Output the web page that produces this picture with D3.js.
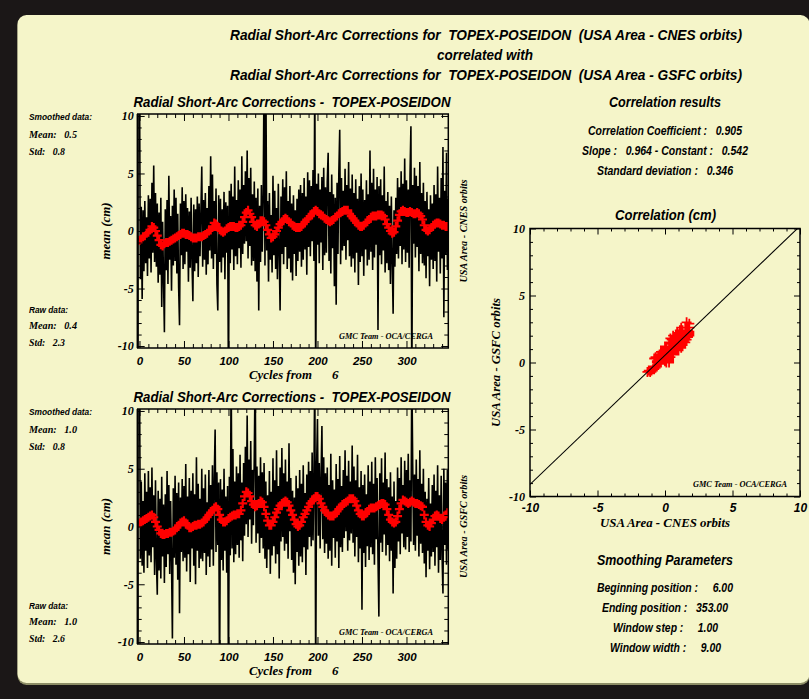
<!DOCTYPE html>
<html><head><meta charset="utf-8">
<script src="https://cdn.jsdelivr.net/npm/d3@7"></script>
<style>
html,body{margin:0;padding:0;background:#1b1717;}
svg{display:block;}
text{white-space:pre;}
</style></head><body>
<svg id="chart" width="809" height="699"></svg>
<script>
// ---------------- DATA ----------------
// Raw radial short-arc corrections (cm), one value per cycle index (cycle - 6), index 0..347
const cnesRaw = [
 14, -4.2, 2.1, -5.9, 1.8, -3.5, 2.6, -2.8, 1.2, -3.9,
 3.1, -2.4, 2.8, -3.6, 4.2, -1.9, 5.7, -2.7, 3.3, -3.1,
 2.4, -4.5, 1.6, -3.8, 2.9, -6.6, 0.8, -4.1, -8.8, 1.9,
 -3.4, 2.7, -4.6, 4.8, -2.5, 1.3, -5.2, 2.2, -3.0, 3.6,
 -2.6, 2.9, -3.7, 1.5, -4.9, -8.2, 2.4, -2.1, 3.8, -3.3,
 2.6, -2.9, 3.2, -1.8, 2.0, -4.4, 1.7, -3.2, 2.9, -2.6,
 -6.1, 2.3, -3.5, 1.9, -2.8, 3.0, -4.0, 2.4, -2.2, 1.6,
 5.6, -3.1, 2.7, -2.5, 3.3, -3.8, 2.0, -2.9, 3.9, -1.7,
 6.5, -2.4, 4.9, -3.3, 2.6, -2.0, 3.7, -4.6, -6.9, 3.1,
 -2.7, 2.8, -3.6, 1.9, -2.3, 3.4, -4.2, 2.5, -1.9, 2.2,
 -14, 3.5, -2.8, 4.1, -1.6, 3.0, -3.4, 5.6, -2.2, 2.7,
 -2.9, 4.4, -1.5, 3.6, -3.2, 6.5, -2.0, 4.0, -1.1, 5.2,
 -0.9, 7.0, -2.4, 4.6, -1.3, 5.5, -3.0, 3.2, -2.6, 4.3,
 -3.5, 2.9, -4.4, 3.7, -6.9, 2.2, -2.7, 4.0, -1.8, 3.1,
 14, -3.0, 14, -1.7, 2.6, -4.4, 3.3, -2.5, 1.4, -3.6,
 4.8, -2.1, 3.5, -3.3, 2.0, -4.2, 4.1, -1.9, -6.9, 3.0,
 -2.0, 4.5, -2.9, 3.8, -1.4, 5.2, -3.3, 2.6, -2.4, 3.9,
 -3.6, 2.4, -4.3, 3.1, -2.0, 1.8, -3.9, 2.8, -2.6, 3.6,
 -1.8, 4.0, -3.1, 3.3, -2.5, 4.6, -1.6, 3.0, -3.8, 5.1,
 -1.4, 4.4, -2.2, 3.9, -0.9, 5.3, -2.6, 14, -14, 4.1,
 -1.2, 5.0, -2.8, 3.6, -1.0, 4.7, -3.4, 5.5, -2.1, 3.8,
 -1.9, 4.3, 6.8, -2.6, 3.4, -3.7, 4.9, -1.5, 3.2, -4.8,
 2.9, -6.4, 4.2, -2.0, 5.1, 8.8, -2.9, 4.6, -1.7, 3.5,
 -1.3, 5.4, -2.5, 4.0, -0.8, 6.0, -2.2, 3.7, -3.1, 4.9,
 -2.4, 3.3, -3.6, 4.5, -1.9, 2.8, -4.7, 3.9, -2.7, 5.0,
 -2.2, 3.6, -3.9, 2.7, -1.6, 4.4, -3.0, 3.2, -2.5, 7.0,
 -1.8, 4.2, -3.4, 5.4, -2.3, 3.6, -1.2, 4.7, -8.6, 3.9,
 -2.1, 4.5, -2.9, 3.1, -1.7, 5.6, -3.6, 2.6, -2.8, 3.4,
 -3.4, 2.2, -4.6, 3.0, -2.6, -7.2, 1.8, -3.1, 2.9, -2.0,
 4.6, -2.4, 3.8, -1.3, 5.2, -2.9, 4.1, -1.6, 6.3, -2.7,
 4.4, -1.9, 3.6, -3.2, 5.0, 9.1, -14, 4.0, -1.1, 5.5,
 -2.3, 4.8, -1.4, 3.9, -3.5, 6.0, -2.0, 3.3, -2.8, 4.2,
 -3.0, 2.6, -4.1, 3.4, -2.2, 1.9, -4.8, 3.1, -2.5, 2.4,
 -3.3, 4.0, -2.6, 3.2, -4.4, 5.6, -1.8, 2.9, -3.7, 4.6,
 -2.4, 7.3, -7.5, 3.5, -2.0, 6.8, -3.4, 2.8
];
const gsfcRaw = [
 14, -2.8, 3.9, -3.4, 2.2, -4.0, 4.6, -2.1, 3.0, -3.6,
 4.8, -2.5, 3.4, -3.1, 5.1, -1.8, 2.7, -4.2, 4.0, -2.9,
 -5.9, 3.1, -3.8, 2.4, -4.5, 4.3, -2.6, 1.9, -4.9, 2.8,
 -3.5, 4.8, -2.4, 3.6, -4.1, 2.2, -3.0, -9.7, 3.3, -2.7,
 4.4, -3.3, 2.9, -4.6, 3.8, -7.5, 2.5, -2.2, 4.1, -3.0,
 3.5, -2.7, 5.4, -3.9, 2.6, -2.4, 4.2, -4.8, 3.1, -1.9,
 4.6, -3.4, 2.8, -5.0, 6.0, -2.1, 3.7, -3.6, 2.4, -2.8,
 5.0, -3.0, 3.3, -2.3, 4.5, -4.2, 2.1, -2.6, 4.9, -3.5,
 3.6, -2.0, 5.3, -3.4, 4.2, 8.4, -2.2, 4.7, -1.6, 3.8,
 -14, 4.1, -2.9, 3.2, -3.8, 5.0, -2.1, 2.6, -4.0, 3.5,
 -14, 4.3, -2.5, 14, -1.9, 6.7, -3.1, 3.9, -2.4, 5.2,
 -1.6, 4.6, -2.7, 6.2, -1.2, 3.8, -3.0, 5.5, -0.8, 6.9,
 0.2, 9.6, -0.9, 5.8, 0.6, 7.4, -1.5, 4.9, 0.1, 6.1,
 14, -1.4, 5.2, -0.6, 4.4, -2.3, 6.0, -1.0, 4.7, -1.9,
 5.5, -2.8, 3.9, -3.6, 2.7, -2.0, 4.8, -4.1, 3.0, -2.5,
 5.9, -1.7, 4.0, -3.2, 6.6, -2.4, 3.5, -4.5, 5.1, -1.3,
 6.8, -0.9, 4.6, -2.1, 5.8, -1.5, 3.9, -2.8, 7.2, -0.4,
 4.2, -2.9, 3.1, -4.0, 2.5, -5.0, 4.4, -2.2, 3.3, -3.4,
 4.9, -2.6, 3.7, -3.1, 5.3, -1.8, 2.9, -4.2, 4.5, -2.0,
 5.6, -0.9, 4.8, -1.7, 6.4, -1.2, 4.0, 14, -14, 5.2,
 9.3, -0.8, 5.5, -1.9, 4.3, 8.7, -1.1, 6.0, -2.3, 4.6,
 -1.5, 5.1, -2.8, 3.6, -2.1, 6.3, -3.4, 4.0, -1.0, 3.2,
 -2.7, 5.4, -1.3, 4.1, -3.6, 6.1, -1.8, 3.5, -2.2, 4.9,
 -1.0, 6.6, -0.4, 4.4, -2.1, 5.7, -1.2, 3.9, -0.6, 7.0,
 -1.4, 5.2, -2.6, 4.0, -0.9, 6.2, -3.1, 3.4, -1.9, 4.8,
 -7.2, 3.6, -2.3, 4.5, -3.5, 2.8, -1.7, 5.3, -2.9, 3.9,
 -1.8, 5.6, -2.4, 3.7, -3.3, 6.0, -1.1, 4.2, -2.7, -7.8,
 4.6, -1.4, 5.9, -2.2, 3.8, -0.7, 6.4, -2.5, 4.1, -1.6,
 3.4, -3.0, 4.7, -2.1, 2.6, -5.8, 3.9, -3.6, 2.2, -2.8,
 5.1, -1.3, 4.2, -2.4, 6.0, -0.6, 3.6, -1.8, 5.7, -2.0,
 4.9, -0.9, 6.3, -2.2, 4.0, -1.3, 14, 5.4, -1.6, 4.5,
 -2.1, 5.8, -0.8, 4.1, -2.6, 6.6, -1.5, 3.7, -2.3, 5.0,
 -3.2, 3.0, -4.4, 2.4, -2.1, 4.2, -3.7, 2.0, -2.6, 3.6,
 -2.2, 4.5, -3.4, 3.1, -1.8, 5.3, -4.0, 2.7, -2.9, 4.4,
 -2.5, -5.8, 5.0, -1.6, 3.8, -3.3, 4.9, -2.0
];
const rawStep = 1;      // cycles between raw samples
// Smoothed series (window 9), one value every 2 cycles, index 0..346
const cnesSmooth = [
 -0.8, -0.7, -0.5, -0.4, -0.2, -0.1, 0.1, 0.4, 0.3, 0.0,
 -0.4, -0.8, -1.2, -1.3, -1.1, -1.0, -1.0, -0.9, -0.8, -0.7,
 -0.6, -0.5, -0.4, -0.3, -0.2, -0.2, -0.3, -0.3, -0.4, -0.5,
 -0.6, -0.6, -0.6, -0.5, -0.5, -0.5, -0.4, -0.3, -0.2, 0.0,
 0.1, 0.4, 0.7, 0.6, 0.3, 0.1, 0.0, -0.1, 0.0, 0.2,
 0.3, 0.4, 0.4, 0.4, 0.3, 0.3, 0.4, 0.5, 0.8, 1.2,
 1.6, 1.8, 1.5, 1.2, 0.8, 0.5, 0.4, 0.6, 0.9, 0.9,
 0.8, 0.5, 0.1, -0.3, -0.6, -0.5, -0.3, 0.0, 0.3, 0.6,
 0.8, 1.0, 1.1, 1.0, 0.8, 0.7, 0.5, 0.4, 0.3, 0.3,
 0.3, 0.4, 0.6, 0.8, 1.0, 1.1, 1.3, 1.5, 1.7, 1.8,
 1.7, 1.5, 1.4, 1.3, 1.1, 1.0, 0.9, 0.8, 0.9, 1.0,
 1.2, 1.3, 1.5, 1.6, 1.7, 1.8, 1.8, 1.8, 1.5, 1.3,
 1.1, 0.9, 0.7, 0.5, 0.4, 0.4, 0.5, 0.7, 0.8, 1.0,
 1.2, 1.3, 1.3, 1.3, 1.4, 1.4, 1.4, 1.3, 1.0, 0.6,
 0.3, 0.0, -0.2, -0.1, 0.4, 0.9, 1.4, 1.7, 1.8, 1.7,
 1.6, 1.6, 1.7, 1.6, 1.5, 1.5, 1.6, 1.5, 1.3, 1.0,
 0.5, 0.1, 0.0, 0.1, 0.3, 0.5, 0.6, 0.7, 0.7, 0.6,
 0.5, 0.5, 0.4, 0.4
];
const gsfcSmooth = [
 0.3, 0.4, 0.5, 0.6, 0.7, 0.8, 0.9, 1.0, 0.8, 0.4,
 0.0, -0.3, -0.6, -0.7, -0.7, -0.6, -0.6, -0.5, -0.5, -0.4,
 -0.3, -0.1, 0.1, 0.3, 0.4, 0.5, 0.3, 0.1, -0.1, -0.1,
 0.0, 0.1, 0.1, 0.2, 0.2, 0.3, 0.4, 0.6, 0.8, 1.0,
 1.2, 1.4, 1.6, 1.7, 1.5, 1.0, 0.6, 0.4, 0.4, 0.5,
 0.7, 0.8, 0.9, 1.0, 1.0, 1.1, 1.1, 1.4, 2.0, 2.6,
 3.0, 2.9, 2.6, 2.2, 1.9, 1.7, 1.8, 2.0, 2.2, 2.1,
 1.7, 1.1, 0.5, 0.1, 0.1, 0.4, 0.8, 1.2, 1.5, 1.8,
 2.0, 2.1, 2.2, 2.1, 1.8, 1.4, 1.0, 0.6, 0.2, 0.0,
 0.1, 0.4, 0.8, 1.1, 1.4, 1.7, 2.0, 2.2, 2.4, 2.6,
 2.6, 2.4, 2.0, 1.7, 1.4, 1.2, 1.0, 0.9, 0.9, 0.9,
 1.1, 1.3, 1.5, 1.7, 1.9, 2.0, 2.1, 2.2, 2.4, 2.4,
 2.4, 2.2, 1.8, 1.4, 1.1, 0.9, 0.9, 1.1, 1.3, 1.5,
 1.6, 1.6, 1.6, 1.7, 1.8, 1.9, 2.0, 2.0, 1.9, 1.5,
 1.0, 0.6, 0.4, 0.3, 0.4, 0.9, 1.5, 2.0, 2.3, 2.2,
 2.1, 2.0, 2.1, 2.2, 2.1, 2.0, 2.0, 1.9, 1.8, 1.7,
 1.0, 0.4, 0.1, 0.0, 0.3, 0.6, 0.9, 1.0, 0.9, 0.7,
 0.6, 0.8, 1.0, 1.2
];
const smoothStep = 2;   // cycles between smoothed samples

const seriesXTicks = [0, 50, 100, 150, 200, 250, 300];
const seriesYTicks = [-10, -5, 0, 5, 10];
const corrTicks = [-10, -5, 0, 5, 10];
const regression = {slope: 0.964, constant: 0.542};

const titleLines = [
 "Radial Short-Arc Corrections for  TOPEX-POSEIDON  (USA Area - CNES orbits)",
 "correlated with",
 "Radial Short-Arc Corrections for  TOPEX-POSEIDON  (USA Area - GSFC orbits)"
];
const panelTitle = "Radial Short-Arc Corrections -  TOPEX-POSEIDON";
const statsCnes = {smoothMean: "0.5", smoothStd: "0.8", rawMean: "0.4", rawStd: "2.3"};
const statsGsfc = {smoothMean: "1.0", smoothStd: "0.8", rawMean: "1.0", rawStd: "2.6"};
const corrResults = ["Correlation Coefficient :   0.905", "Slope :   0.964 - Constant :   0.542", "Standard deviation :   0.346"];
const smoothingParams = ["Beginning position :     6.00", "Ending position :   353.00", "Window step :     1.00", "Window width :     9.00"];
const firstCycle = "6";

// ---------------- DRAWING ----------------
const SANS = "'Liberation Sans', Arial, Helvetica, sans-serif";
const SERIF = "'Liberation Serif', 'Times New Roman', serif";
const svg = d3.select("#chart");
const defs = svg.append("defs");

svg.append("rect").attr("width", 809).attr("height", 699).attr("fill", "#1b1717");
svg.append("rect").attr("x", 17.5).attr("y", 16.5).attr("width", 792).attr("height", 668.5).attr("rx", 9).attr("fill", "#8d8d66");
svg.append("rect").attr("x", 17.5).attr("y", 15).attr("width", 792).attr("height", 668).attr("rx", 9).attr("fill", "#f5f5c9");

function label(x, y, s, o) {
  o = o || {};
  const t = svg.append("text")
    .attr("font-family", o.family || SANS)
    .attr("font-size", o.size || 12)
    .attr("font-weight", "bold")
    .attr("font-style", "italic")
    .attr("fill", "#000")
    .attr("text-anchor", o.anchor || "middle")
    .attr("xml:space", "preserve")
    .text(s);
  if (o.rotate) t.attr("transform", `translate(${x},${y}) rotate(-90)`);
  else t.attr("x", x).attr("y", y);
  if (o.len) t.attr("textLength", o.len).attr("lengthAdjust", "spacingAndGlyphs");
  return t;
}

// Main title
label(486, 40, titleLines[0], {size: 15, len: 512});
label(485, 59.5, titleLines[1], {size: 15, len: 96});
label(486, 79.5, titleLines[2], {size: 15, len: 512});

function styleAxis(sel, family, size) {
  sel.select(".domain").remove();
  sel.attr("font-family", null).attr("font-size", null);
  sel.selectAll("line").attr("stroke", "#000").attr("stroke-width", 1);
  sel.selectAll("text").attr("font-family", family).attr("font-size", size)
    .attr("font-weight", "bold").attr("font-style", "italic").attr("fill", "#000");
}

function addTicks(g, axisFn, scale, values, size, tr, fmt, pad, family, fsize) {
  const a = axisFn(scale).tickValues(values).tickSize(size).tickSizeOuter(0).tickPadding(pad)
    .tickFormat(fmt || (() => ""));
  const s = g.append("g").attr("transform", tr).call(a);
  styleAxis(s, family || SANS, fsize || 12);
  return s;
}

function plusPath(px, py, h) { return `M${px - h},${py}H${px + h}M${px},${py - h}V${py + h}`; }

function drawSeries(cfg) {
  const L = 137.7, R = 448.3, T = cfg.top, B = cfg.bottom;
  const x = d3.scaleLinear().domain([-2, 347]).range([L, R]);
  const y = d3.scaleLinear().domain([-10.17, 10.17]).range([B, T]);
  const g = svg.append("g");
  const cid = "clip" + cfg.id;
  defs.append("clipPath").attr("id", cid).append("rect").attr("x", L).attr("y", T).attr("width", R - L).attr("height", B - T);

  const line = d3.line().x((d, i) => x(i * rawStep)).y(d => y(d));
  g.append("path").datum(cfg.raw).attr("d", line).attr("fill", "none")
    .attr("stroke", "#000").attr("stroke-width", 1.6).attr("stroke-linejoin", "miter").attr("clip-path", `url(#${cid})`);

  g.append("path").attr("clip-path", `url(#${cid})`)
    .attr("d", cfg.smooth.map((v, i) => plusPath(x(i * smoothStep), y(v), 4.5)).join(""))
    .attr("stroke", "#ff0000").attr("stroke-width", 2.2).attr("fill", "none");

  // ticks
  const xMinor = d3.range(0, 347, 10).filter(v => v % 50 !== 0);
  const yMinor = d3.range(-10, 11, 1).filter(v => v % 5 !== 0);
  addTicks(g, d3.axisBottom, x, seriesXTicks, -7, `translate(0,${B})`, d => String(d), 9, SANS, 11.5);
  addTicks(g, d3.axisBottom, x, xMinor, -4, `translate(0,${B})`);
  addTicks(g, d3.axisTop, x, seriesXTicks, -7, `translate(0,${T})`);
  addTicks(g, d3.axisTop, x, xMinor, -4, `translate(0,${T})`);
  addTicks(g, d3.axisLeft, y, seriesYTicks, -7, `translate(${L},0)`, d => String(d), 4, SERIF, 12);
  addTicks(g, d3.axisLeft, y, yMinor, -4, `translate(${L},0)`);
  addTicks(g, d3.axisRight, y, seriesYTicks, -7, `translate(${R},0)`);
  addTicks(g, d3.axisRight, y, yMinor, -4, `translate(${R},0)`);

  g.append("rect").attr("x", L).attr("y", T).attr("width", R - L).attr("height", B - T)
    .attr("fill", "none").attr("stroke", "#000").attr("stroke-width", 1.5);
  g.append("line").attr("x1", L).attr("x2", L).attr("y1", T).attr("y2", B).attr("stroke", "#000").attr("stroke-width", 2.2);

  // texts
  label(292, T - 7, panelTitle, {size: 14.5, len: 317});
  label(249, B + 31, "Cycles from", {family: SERIF, size: 13, anchor: "start", len: 63});
  label(332, B + 31, firstCycle, {family: SERIF, size: 13, anchor: "start"});
  label(109.5, (T + B) / 2, "mean (cm)", {family: SERIF, size: 13, rotate: true, len: 57});
  label(466.5, (T + B) / 2, cfg.side, {family: SERIF, size: 10, rotate: true, len: 103});
  label(339, B - 9, "GMC Team - OCA/CERGA", {family: SERIF, size: 8.5, anchor: "start", len: 94});

  const st = cfg.stats;
  label(29, T + 6, "Smoothed data:", {size: 9.5, anchor: "start", len: 63});
  label(29, T + 23.5, "Mean:   " + st.smoothMean, {family: SERIF, size: 11, anchor: "start", len: 48});
  label(29, T + 40.5, "Std:   " + st.smoothStd, {family: SERIF, size: 11, anchor: "start", len: 36});
  label(29, B - 35, "Raw data:", {size: 9.5, anchor: "start", len: 39});
  label(29, B - 19, "Mean:   " + st.rawMean, {family: SERIF, size: 11, anchor: "start", len: 48});
  label(29, B - 2.5, "Std:   " + st.rawStd, {family: SERIF, size: 11, anchor: "start", len: 36});
}

drawSeries({id: "a", top: 114, bottom: 348, raw: cnesRaw, smooth: cnesSmooth, side: "USA Area - CNES orbits", stats: statsCnes});
drawSeries({id: "b", top: 409, bottom: 644, raw: gsfcRaw, smooth: gsfcSmooth, side: "USA Area - GSFC orbits", stats: statsGsfc});

// Correlation results block
label(665, 107, "Correlation results", {size: 14.5, len: 112});
label(665, 135, corrResults[0], {size: 12, len: 154});
label(665, 155, corrResults[1], {size: 12, len: 166});
label(665, 174.5, corrResults[2], {size: 12, len: 136});

// Scatter plot
(function () {
  const L = 530, R = 800, T = 228.5, B = 496.5;
  const x = d3.scaleLinear().domain([-10, 10]).range([L, R]);
  const y = d3.scaleLinear().domain([-10, 10]).range([B, T]);
  const g = svg.append("g");
  defs.append("clipPath").attr("id", "clipc").append("rect").attr("x", L).attr("y", T).attr("width", R - L).attr("height", B - T);

  g.append("path").attr("clip-path", "url(#clipc)")
    .attr("d", cnesSmooth.map((v, i) => plusPath(x(v), y(gsfcSmooth[i]), 5)).join(""))
    .attr("stroke", "#ff0000").attr("stroke-width", 1.8).attr("fill", "none");

  g.append("line").attr("clip-path", "url(#clipc)")
    .attr("x1", x(-10)).attr("y1", y(regression.slope * -10 + regression.constant))
    .attr("x2", x(10)).attr("y2", y(regression.slope * 10 + regression.constant))
    .attr("stroke", "#000").attr("stroke-width", 1.1);

  const minor = d3.range(-10, 11, 1).filter(v => v % 5 !== 0);
  addTicks(g, d3.axisBottom, x, corrTicks, -6, `translate(0,${B})`, d => String(d), 7, SANS, 12);
  addTicks(g, d3.axisBottom, x, minor, -3, `translate(0,${B})`);
  addTicks(g, d3.axisTop, x, corrTicks, -6, `translate(0,${T})`);
  addTicks(g, d3.axisTop, x, minor, -3, `translate(0,${T})`);
  addTicks(g, d3.axisLeft, y, corrTicks, -6, `translate(${L},0)`, d => String(d), 5, SERIF, 12);
  addTicks(g, d3.axisLeft, y, minor, -3, `translate(${L},0)`);
  addTicks(g, d3.axisRight, y, corrTicks, -6, `translate(${R},0)`);
  addTicks(g, d3.axisRight, y, minor, -3, `translate(${R},0)`);

  g.append("rect").attr("x", L).attr("y", T).attr("width", R - L).attr("height", B - T)
    .attr("fill", "none").attr("stroke", "#000").attr("stroke-width", 1.5);

  label(665.5, 220, "Correlation (cm)", {size: 14.5, len: 101});
  label(665, 527, "USA Area - CNES orbits", {family: SERIF, size: 13, len: 130});
  label(499.5, 362.5, "USA Area - GSFC orbits", {family: SERIF, size: 13, rotate: true, len: 129});
  label(693, 487, "GMC Team - OCA/CERGA", {family: SERIF, size: 8.5, anchor: "start", len: 94});
})();

// Smoothing parameters block
label(665, 565, "Smoothing Parameters", {size: 14.5, len: 136});
label(665, 591.5, smoothingParams[0], {size: 12, len: 136});
label(665, 611.5, smoothingParams[1], {size: 12, len: 126});
label(665.5, 631.5, smoothingParams[2], {size: 12, len: 105});
label(665.5, 651.5, smoothingParams[3], {size: 12, len: 111});
</script>
</body></html>
